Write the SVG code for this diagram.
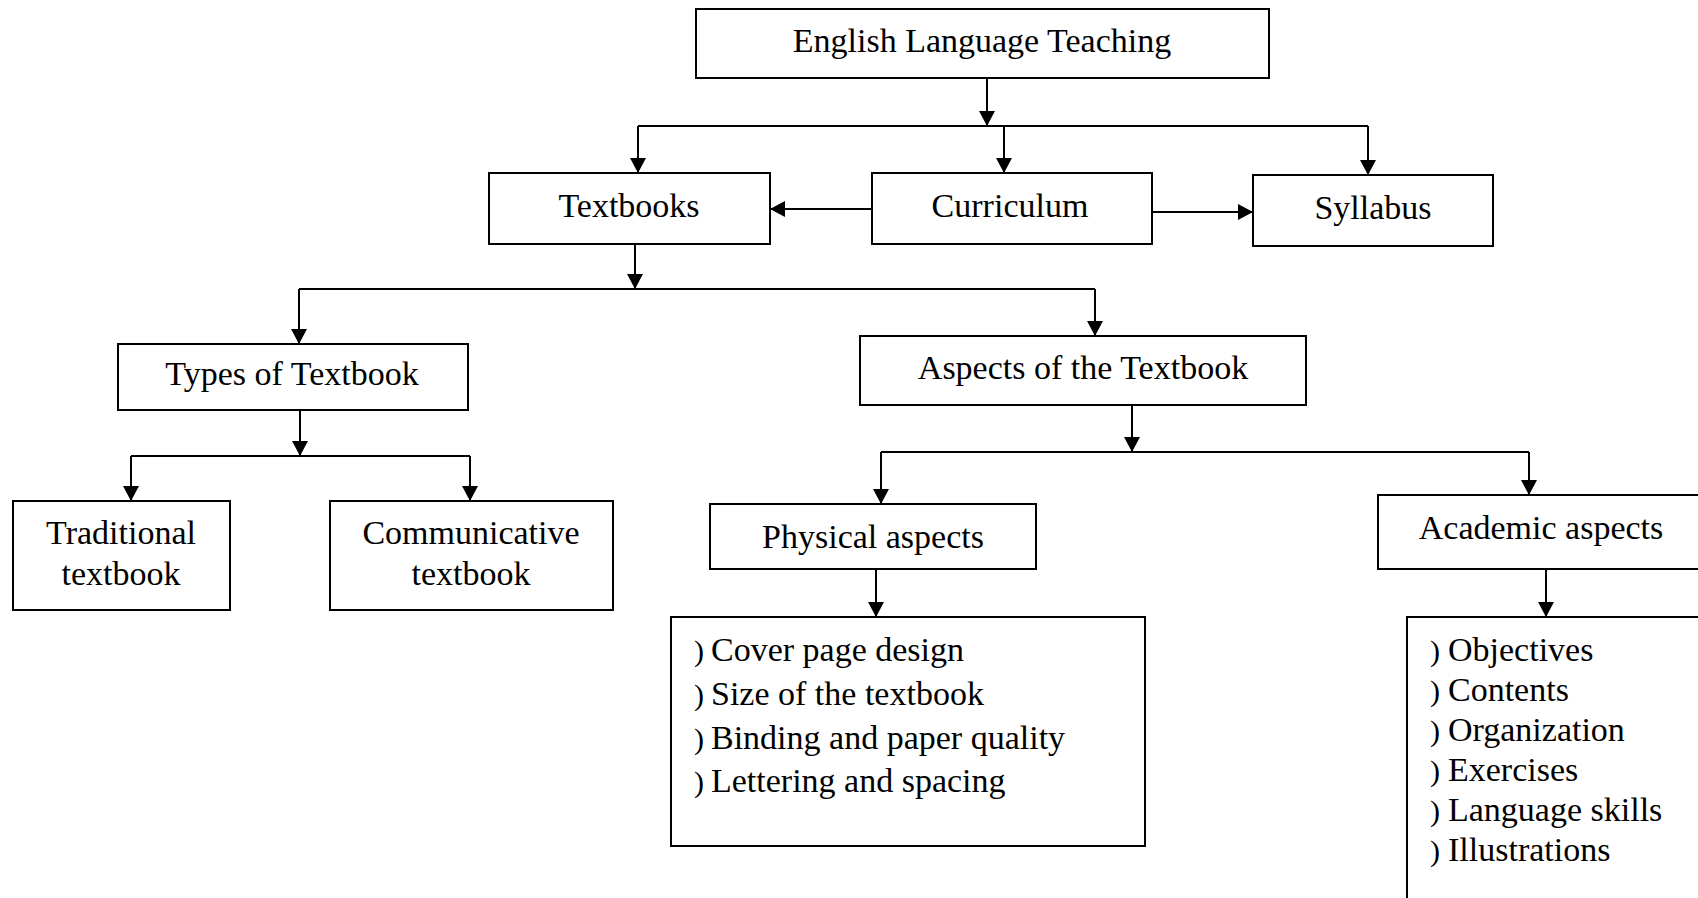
<svg xmlns="http://www.w3.org/2000/svg" width="1698" height="898" viewBox="0 0 1698 898">
<defs>
<marker id="ah" markerUnits="userSpaceOnUse" markerWidth="15" markerHeight="16" refX="15" refY="8" orient="auto">
<path d="M0,0 L15,8 L0,16 z" fill="#000"/>
</marker>
<style>
.box{fill:#fff;stroke:#000;stroke-width:2}
.t{font-family:"Liberation Serif","Times New Roman",serif;font-size:34px;fill:#000}
.b{font-family:"Liberation Serif","Times New Roman",serif;font-size:30px;fill:#000}
.c{text-anchor:middle}
.ln{fill:none;stroke:#000;stroke-width:2}
</style>
</defs>
<rect width="1698" height="898" fill="#fff"/>
<g id="connectors">
<path class="ln" d="M987,78 V126" marker-end="url(#ah)"/>
<path class="ln" d="M638,126 H1368"/>
<path class="ln" d="M638,126 V173" marker-end="url(#ah)"/>
<path class="ln" d="M1004,126 V173" marker-end="url(#ah)"/>
<path class="ln" d="M1368,126 V175" marker-end="url(#ah)"/>
<path class="ln" d="M872,209 H770" marker-end="url(#ah)"/>
<path class="ln" d="M1152,212 H1253" marker-end="url(#ah)"/>
<path class="ln" d="M635,244 V289" marker-end="url(#ah)"/>
<path class="ln" d="M299,289 H1095"/>
<path class="ln" d="M299,289 V344" marker-end="url(#ah)"/>
<path class="ln" d="M1095,289 V336" marker-end="url(#ah)"/>
<path class="ln" d="M300,410 V456" marker-end="url(#ah)"/>
<path class="ln" d="M131,456 H470"/>
<path class="ln" d="M131,456 V501" marker-end="url(#ah)"/>
<path class="ln" d="M470,456 V501" marker-end="url(#ah)"/>
<path class="ln" d="M1132,405 V452" marker-end="url(#ah)"/>
<path class="ln" d="M881,452 H1529"/>
<path class="ln" d="M881,452 V504" marker-end="url(#ah)"/>
<path class="ln" d="M1529,452 V495" marker-end="url(#ah)"/>
<path class="ln" d="M876,569 V617" marker-end="url(#ah)"/>
<path class="ln" d="M1546,569 V617" marker-end="url(#ah)"/>
</g>
<g id="elt"><rect class="box" x="696" y="9" width="573" height="69"/><text class="t c" x="982" y="52">English Language Teaching</text></g>
<g id="textbooks"><rect class="box" x="489" y="173" width="281" height="71"/><text class="t c" x="629" y="217">Textbooks</text></g>
<g id="curriculum"><rect class="box" x="872" y="173" width="280" height="71"/><text class="t c" x="1010" y="217">Curriculum</text></g>
<g id="syllabus"><rect class="box" x="1253" y="175" width="240" height="71"/><text class="t c" x="1373" y="219">Syllabus</text></g>
<g id="types"><rect class="box" x="118" y="344" width="350" height="66"/><text class="t c" x="292" y="385">Types of Textbook</text></g>
<g id="aspects"><rect class="box" x="860" y="336" width="446" height="69"/><text class="t c" x="1083" y="379">Aspects of the Textbook</text></g>
<g id="traditional"><rect class="box" x="13" y="501" width="217" height="109"/><text class="t c" x="121" y="544">Traditional</text><text class="t c" x="121" y="585">textbook</text></g>
<g id="communicative"><rect class="box" x="330" y="501" width="283" height="109"/><text class="t c" x="471" y="544">Communicative</text><text class="t c" x="471" y="585">textbook</text></g>
<g id="physical"><rect class="box" x="710" y="504" width="326" height="65"/><text class="t c" x="873" y="548">Physical aspects</text></g>
<g id="academic"><rect class="box" x="1378" y="495" width="330" height="74"/><text class="t c" x="1541" y="539">Academic aspects</text></g>
<g id="physical-list"><rect class="box" x="671" y="617" width="474" height="229"/>
<text class="b" x="694" y="661">)</text><text class="t" x="711" y="661">Cover page design</text>
<text class="b" x="694" y="705">)</text><text class="t" x="711" y="705">Size of the textbook</text>
<text class="b" x="694" y="749">)</text><text class="t" x="711" y="749">Binding and paper quality</text>
<text class="b" x="694" y="792">)</text><text class="t" x="711" y="792">Lettering and spacing</text>
</g>
<g id="academic-list"><rect class="box" x="1407" y="617" width="310" height="300"/>
<text class="b" x="1430" y="661">)</text><text class="t" x="1448" y="661">Objectives</text>
<text class="b" x="1430" y="701">)</text><text class="t" x="1448" y="701">Contents</text>
<text class="b" x="1430" y="741">)</text><text class="t" x="1448" y="741">Organization</text>
<text class="b" x="1430" y="781">)</text><text class="t" x="1448" y="781">Exercises</text>
<text class="b" x="1430" y="821">)</text><text class="t" x="1448" y="821">Language skills</text>
<text class="b" x="1430" y="861">)</text><text class="t" x="1448" y="861">Illustrations</text>
</g>
</svg>
